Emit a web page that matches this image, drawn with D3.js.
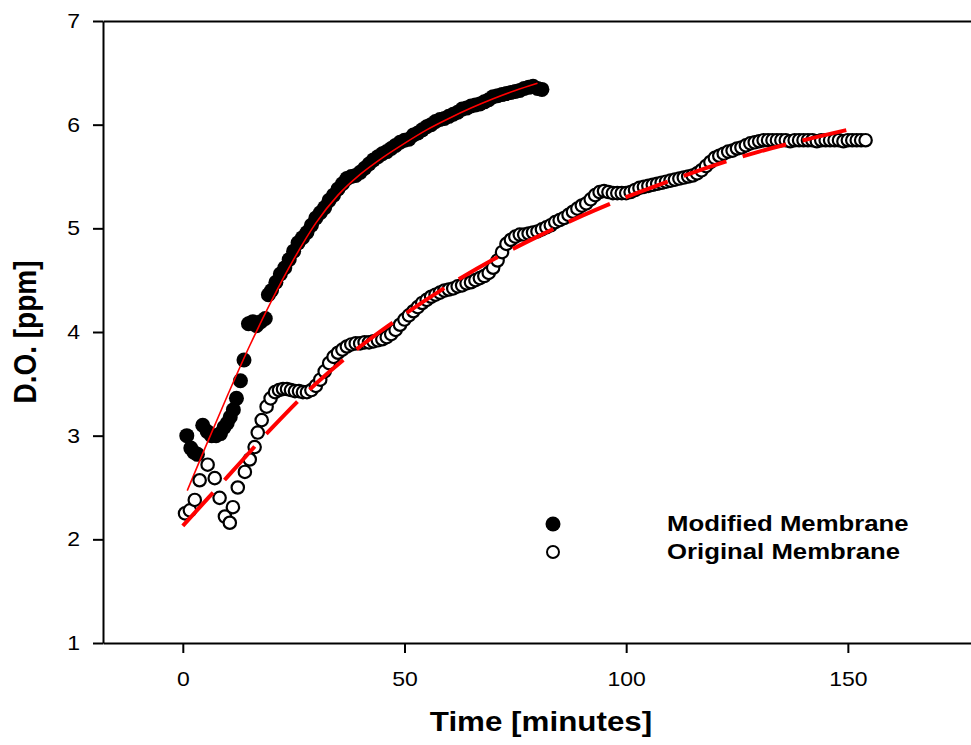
<!DOCTYPE html>
<html>
<head>
<meta charset="utf-8">
<script src="https://cdn.jsdelivr.net/npm/d3@7"></script>
<style>
  body { margin: 0; background: #fff; }
  svg { display: block; }
</style>
</head>
<body>
<svg id="chart"></svg>
<script>
// Dissolved oxygen readings [minutes, ppm]
const modifiedPoints = [
  [0.9,3.0],[1.8,2.88],[2.5,2.84],[3.3,2.82],[4.5,3.1],[5.5,3.04],[6.5,3.0],[7.5,3.0],[8.5,3.02],[9.3,3.08],
  [10,3.12],[10.7,3.18],[11.4,3.25],[12.1,3.36],[13,3.53],[13.8,3.73],[14.8,4.08],[15.8,4.1],[16.6,4.06],[17.6,4.1],
  [18.6,4.13],[19.3,4.36],[20,4.4],[21,4.48],[22,4.56],[23,4.62],[24,4.7],[25,4.78],[26,4.86],[27,4.91],
  [28,4.96],[29,5.03],[30,5.1],[31,5.15],[32,5.2],[33,5.27],[34,5.32],[35,5.38],[36,5.43],[37,5.48],
  [38,5.5],[39,5.51],[40,5.54],[41,5.58],[42,5.62],[43,5.66],[44,5.69],[45,5.72],[46,5.74],[47,5.77],
  [48,5.8],[49,5.83],[50,5.85],[51,5.86],[52,5.9],[53,5.92],[54,5.95],[55,5.98],[56,6.0],[57,6.03],
  [58,6.05],[59,6.06],[60,6.08],[61,6.1],[62,6.12],[63,6.15],[64,6.16],[65,6.18],[66,6.19],[67,6.2],
  [68,6.22],[69,6.24],[70,6.27],[71,6.28],[72,6.29],[73,6.3],[74,6.31],[75,6.32],[76,6.33],[77,6.35],
  [78,6.36],[79,6.37],[80,6.35],[81,6.34]
];

const originalPoints = [
  [0.5,2.25],[1.6,2.28],[2.7,2.38],[3.8,2.57],[5.6,2.72],[7.2,2.59],[8.3,2.4],[9.5,2.22],[10.6,2.16],[11.3,2.31],
  [12.4,2.5],[14,2.65],[15.1,2.77],[16.2,2.89],[16.9,3.03],[17.8,3.15],[18.9,3.28],[19.8,3.36],[20.8,3.42],[21.7,3.44],
  [22.6,3.45],[23.5,3.45],[24.4,3.44],[25.3,3.43],[26.2,3.43],[27.1,3.42],[28,3.42],[29,3.44],[30,3.48],[31,3.54],
  [32,3.62],[33,3.7],[34,3.76],[35,3.8],[36,3.83],[37,3.86],[38,3.88],[39,3.89],[40,3.89],[41,3.9],
  [42,3.9],[43,3.91],[44,3.92],[45,3.93],[46,3.95],[47,3.98],[48,4.02],[49,4.07],[50,4.12],[51,4.16],
  [52,4.2],[53,4.24],[54,4.28],[55,4.31],[56,4.34],[57,4.36],[58,4.38],[59,4.4],[60,4.41],[61,4.42],
  [62,4.44],[63,4.45],[64,4.47],[65,4.48],[66,4.5],[67,4.52],[68,4.54],[69,4.57],[70,4.62],[71,4.69],
  [72,4.77],[73,4.85],[74,4.89],[75,4.92],[76,4.94],[77,4.94],[78,4.95],[79,4.96],[80,4.97],[81,4.99],
  [82,5.01],[83,5.03],[84,5.06],[85,5.08],[86,5.1],[87,5.13],[88,5.16],[89,5.19],[90,5.22],[91,5.24],
  [92,5.28],[93,5.32],[94,5.35],[95,5.36],[96,5.35],[97,5.34],[98,5.34],[99,5.34],[100,5.34],[101,5.35],
  [102,5.37],[103,5.39],[104,5.4],[105,5.41],[106,5.42],[107,5.43],[108,5.44],[109,5.45],[110,5.46],[111,5.47],
  [112,5.48],[113,5.49],[114,5.5],[115,5.51],[116,5.53],[117,5.56],[118,5.6],[119,5.64],[120,5.68],[121,5.7],
  [122,5.72],[123,5.74],[124,5.75],[125,5.77],[126,5.78],[127,5.8],[128,5.82],[129,5.83],[130,5.84],[131,5.85],
  [132,5.85],[133,5.85],[134,5.85],[135,5.85],[136,5.85],[137,5.84],[138,5.85],[139,5.85],[140,5.85],[141,5.85],
  [142,5.85],[143,5.84],[144,5.85],[145,5.85],[146,5.85],[147,5.85],[148,5.85],[149,5.84],[150,5.85],[151,5.85],
  [152,5.85],[153,5.85],[154,5.85]
];

// Regression curves
const modifiedFit = [
  [1,2.47],[5,2.88],[10,3.38],[15,3.86],[20,4.3],[25,4.7],[30,5.05],[35,5.32],[40,5.52],
  [45,5.68],[50,5.82],[55,5.95],[60,6.06],[65,6.16],[70,6.25],[75,6.33],[80,6.4]
];
const originalFit = [
  [0,2.13],[10,2.6],[20,3.07],[30,3.5],[40,3.86],[50,4.17],[60,4.45],[70,4.7],
  [80,4.92],[90,5.12],[100,5.3],[110,5.46],[120,5.61],[130,5.74],[140,5.85],[152,5.97]
];

const xTicks = [0, 50, 100, 150];
const yTicks = [1, 2, 3, 4, 5, 6, 7];
const legendLabels = ['Modified Membrane', 'Original Membrane'];

const width = 971;
const height = 745;
const font = '"Liberation Sans", Arial, sans-serif';
const stretch = 1.15; // source picture is a little wider than tall

const svg = d3.select('#chart')
  .attr('width', width)
  .attr('height', height)
  .style('background', '#fff');

const x = d3.scaleLinear().domain([-18, 178]).range([103, 972]);
const y = d3.scaleLinear().domain([1, 7]).range([643, 21]);

// Frame: top line
svg.append('g')
  .attr('transform', `translate(0,${y(7)})`)
  .call(d3.axisTop(x).tickValues([]).tickSizeOuter(0))
  .call(g => g.select('.domain').attr('stroke', '#000').attr('stroke-width', 2));

// X axis
const xAxis = svg.append('g')
  .attr('transform', `translate(0,${y(1)})`)
  .call(d3.axisBottom(x).tickValues(xTicks).tickFormat(d3.format('d')).tickSize(10).tickSizeOuter(0));
xAxis.select('.domain').attr('stroke', '#000').attr('stroke-width', 2);
xAxis.selectAll('.tick line').attr('stroke', '#000').attr('stroke-width', 2);
xAxis.selectAll('.tick text')
  .attr('y', 29)
  .attr('fill', '#000')
  .style('font-family', font)
  .style('font-size', '20px')
  .attr('transform', `scale(${stretch},1)`);

// Y axis
const yAxis = svg.append('g')
  .attr('transform', `translate(${x(-18)},0)`)
  .call(d3.axisLeft(y).tickValues(yTicks).tickFormat(d3.format('d')).tickSize(10).tickSizeOuter(0));
yAxis.select('.domain').attr('stroke', '#000').attr('stroke-width', 2);
yAxis.selectAll('.tick line').attr('stroke', '#000').attr('stroke-width', 2);
yAxis.selectAll('.tick text')
  .attr('x', -20)
  .attr('fill', '#000')
  .style('font-family', font)
  .style('font-size', '20px')
  .attr('transform', `scale(${stretch},1)`);

// Modified membrane: filled dots + solid fit
svg.append('g')
  .selectAll('circle')
  .data(modifiedPoints)
  .join('circle')
  .attr('cx', d => x(d[0]))
  .attr('cy', d => y(d[1]))
  .attr('r', 7.5)
  .attr('fill', '#000');

const line = d3.line()
  .x(d => x(d[0]))
  .y(d => y(d[1]))
  .curve(d3.curveMonotoneX);

svg.append('path')
  .datum(modifiedFit)
  .attr('fill', 'none')
  .attr('stroke', '#ff0000')
  .attr('stroke-width', 1.6)
  .attr('d', line);

// Original membrane: open dots + dashed fit
svg.append('g')
  .selectAll('circle')
  .data(originalPoints)
  .join('circle')
  .attr('cx', d => x(d[0]))
  .attr('cy', d => y(d[1]))
  .attr('r', 6.2)
  .attr('fill', '#fff')
  .attr('stroke', '#000')
  .attr('stroke-width', 2.2);

svg.append('path')
  .datum(originalFit)
  .attr('fill', 'none')
  .attr('stroke', '#ff0000')
  .attr('stroke-width', 4)
  .attr('stroke-dasharray', '45,17')
  .attr('d', line);

// Legend
const legend = svg.append('g');
legendLabels.forEach((label, i) => {
  const ly = 524 + i * 28;
  legend.append('circle')
    .attr('cx', 553)
    .attr('cy', ly)
    .attr('r', i === 0 ? 7.5 : 6)
    .attr('fill', i === 0 ? '#000' : '#fff')
    .attr('stroke', '#000')
    .attr('stroke-width', i === 0 ? 0 : 2);
  legend.append('text')
    .attr('transform', `translate(667,${ly + 7}) scale(1.17,1)`)
    .style('font-family', font)
    .style('font-size', '22px')
    .style('font-weight', 'bold')
    .attr('fill', '#000')
    .text(label);
});

// Axis titles
svg.append('text')
  .attr('transform', `translate(541,731) scale(1.12,1)`)
  .attr('text-anchor', 'middle')
  .style('font-family', font)
  .style('font-size', '28px')
  .style('font-weight', 'bold')
  .text('Time [minutes]');

svg.append('text')
  .attr('transform', `translate(36,332) rotate(-90) scale(1,1.13)`)
  .attr('text-anchor', 'middle')
  .style('font-family', font)
  .style('font-size', '28px')
  .style('font-weight', 'bold')
  .text('D.O. [ppm]');
</script>
</body>
</html>
